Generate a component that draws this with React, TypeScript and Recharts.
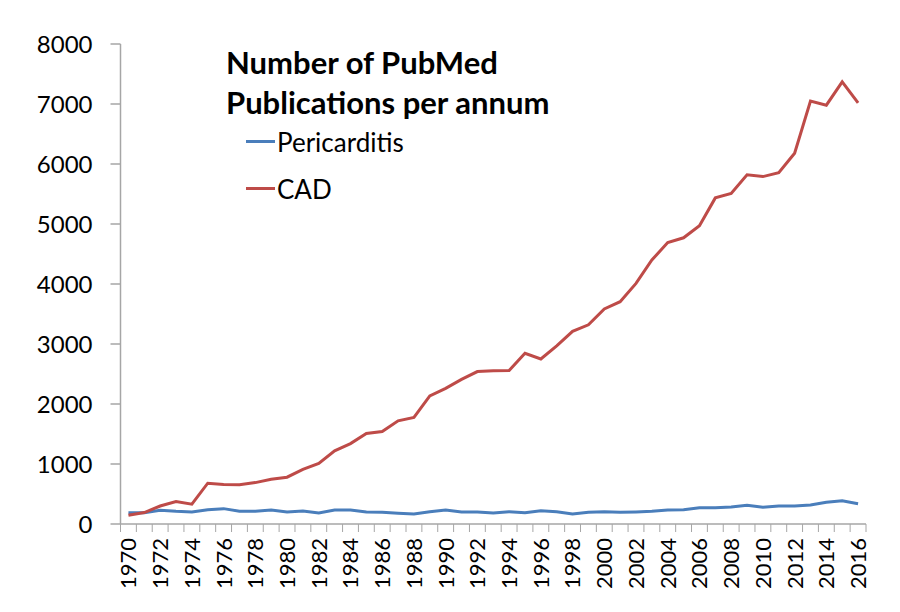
import React from "react";
import { LineChart, Line, XAxis, YAxis, Legend } from "recharts";

const years = [
  "1970", "1971", "1972", "1973", "1974", "1975", "1976", "1977", "1978", "1979",
  "1980", "1981", "1982", "1983", "1984", "1985", "1986", "1987", "1988", "1989",
  "1990", "1991", "1992", "1993", "1994", "1995", "1996", "1997", "1998", "1999",
  "2000", "2001", "2002", "2003", "2004", "2005", "2006", "2007", "2008", "2009",
  "2010", "2011", "2012", "2013", "2014", "2015", "2016",
];

const pericarditis = [
  189, 189, 228, 211, 200, 239, 256, 211, 211, 233,
  200, 217, 183, 233, 233, 200, 194, 178, 167, 205,
  233, 200, 200, 183, 205, 189, 222, 205, 167, 194,
  205, 194, 200, 211, 233, 239, 272, 272, 283, 311,
  278, 300, 300, 316, 361, 389, 339,
];

const cad = [
  145, 190, 300, 375, 330, 680, 660, 655, 690, 745,
  780, 910, 1010, 1220, 1340, 1510, 1540, 1720, 1775, 2135,
  2260, 2410, 2540, 2555, 2560, 2845, 2750, 2970, 3210, 3320,
  3585, 3705, 4010, 4400, 4690, 4770, 4970, 5435, 5510, 5820,
  5790, 5855, 6180, 7050, 6980, 7370, 7020,
];

const yTicks = [0, 1000, 2000, 3000, 4000, 5000, 6000, 7000, 8000];

const titleLines = ["Number of PubMed", "Publications per annum"];
const seriesOrder = ["Pericarditis", "CAD"];

const data = years.map((year, i) => ({
  year,
  Pericarditis: pericarditis[i],
  CAD: cad[i],
}));

const WIDTH = 900;
const HEIGHT = 612;
const Y_AXIS_W = 120.5;
const RIGHT = 34;
const PLOT_W = WIDTH - Y_AXIS_W - RIGHT;
const BAND = PLOT_W / years.length;
const AXIS_COLOR = "#a6a6a6";
const FONT = "Lato, 'Open Sans', sans-serif";

// tick marks sit on category boundaries, labels on every other category centre
const YearTick = (props: any) => {
  const { x, y, index, payload } = props;
  const left = x - BAND / 2;
  return (
    <g>
      <line x1={left} x2={left} y1={y} y2={y + 8} stroke={AXIS_COLOR} strokeWidth={1} />
      {index === years.length - 1 && (
        <line x1={x + BAND / 2} x2={x + BAND / 2} y1={y} y2={y + 8} stroke={AXIS_COLOR} strokeWidth={1} />
      )}
      {index % 2 === 0 && (
        <text
          x={x}
          y={y + 14}
          dy="0.36em"
          textAnchor="end"
          transform={`rotate(-90, ${x}, ${y + 14})`}
          fontSize={22}
          fontFamily={FONT}
          fill="#000"
        >
          {payload.value}
        </text>
      )}
    </g>
  );
};

const TitleLegend = (props: any) => {
  const items = [...(props.payload || [])].sort(
    (a: any, b: any) => seriesOrder.indexOf(a.value) - seriesOrder.indexOf(b.value)
  );
  return (
    <div style={{ fontFamily: FONT, color: "#000" }}>
      {titleLines.map((line) => (
        <div key={line} style={{ fontWeight: 700, fontSize: 31, lineHeight: "40px", whiteSpace: "nowrap" }}>
          {line}
        </div>
      ))}
      <div style={{ paddingLeft: 20, marginTop: -4 }}>
        {items.map((entry: any) => (
          <div key={entry.value} style={{ display: "flex", alignItems: "center", height: 47, fontSize: 26 }}>
            <span style={{ display: "inline-block", width: 29, height: 3, background: entry.color, marginRight: 2 }} />
            <span>{entry.value}</span>
          </div>
        ))}
      </div>
    </div>
  );
};

export default function App() {
  return (
    <div style={{ position: "absolute", left: 0, top: 0, width: WIDTH, height: HEIGHT, background: "#fff" }}>
      <LineChart width={WIDTH} height={HEIGHT} data={data} margin={{ top: 44, right: RIGHT, bottom: 8, left: 0 }}>
        <XAxis
          dataKey="year"
          interval={0}
          padding={{ left: BAND / 2, right: BAND / 2 }}
          tickSize={0}
          tickMargin={0}
          tickLine={false}
          height={80}
          stroke={AXIS_COLOR}
          strokeWidth={1.5}
          tick={<YearTick />}
        />
        <YAxis
          width={Y_AXIS_W}
          domain={[0, 8000]}
          ticks={yTicks}
          interval={0}
          tickSize={10}
          tickMargin={18}
          stroke={AXIS_COLOR}
          strokeWidth={1.5}
          tick={{ fill: "#000", fontSize: 24, fontFamily: FONT }}
        />
        <Legend
          layout="horizontal"
          align="center"
          verticalAlign="middle"
          content={<TitleLegend />}
          wrapperStyle={{ position: "absolute", left: 226, top: 42, width: "auto" }}
        />
        <Line
          dataKey="Pericarditis"
          stroke="#4a7ebb"
          strokeWidth={3}
          dot={false}
          activeDot={false}
          isAnimationActive={false}
        />
        <Line
          dataKey="CAD"
          stroke="#be4b48"
          strokeWidth={3}
          dot={false}
          activeDot={false}
          isAnimationActive={false}
        />
      </LineChart>
    </div>
  );
}
